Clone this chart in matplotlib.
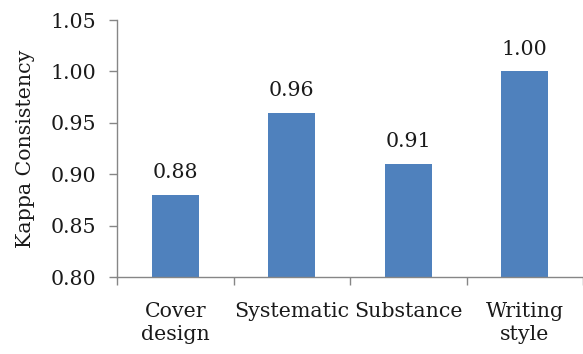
import matplotlib as mpl
mpl.use('Agg')
import matplotlib.pyplot as plt
import numpy as np

categories = ['Cover\ndesign', 'Systematic', 'Substance', 'Writing\nstyle']
kappa = [0.88, 0.96, 0.91, 1.00]
value_labels = ['0.88', '0.96', '0.91', '1.00']

plt.rcParams['font.family'] = ['DejaVu Serif']
fs = 14.8

fig = plt.figure(figsize=(5.83, 3.54), dpi=100)
ax = fig.add_axes([117 / 583, 77 / 354, 1 - 117 / 583, 257 / 354])

x = np.arange(len(categories))
bars = ax.bar(x, kappa, width=0.4, color='#4F81BD', zorder=2)

for xi, v, lab in zip(x, kappa, value_labels):
    ax.annotate(lab, (xi, v), xytext=(0, 9), textcoords='offset points',
                ha='center', va='bottom', fontsize=fs, color='#1a1a1a')

ax.set_ylim(0.80, 1.05)
ax.set_xlim(-0.5, len(categories) - 0.5)
ax.set_yticks(np.arange(0.80, 1.0501, 0.05))
ax.set_yticklabels(['%.2f' % t for t in np.arange(0.80, 1.0501, 0.05)])

ax.set_xticks(x)
ax.set_xticklabels(categories, linespacing=1.3)
ax.set_xticks(np.arange(-0.5, len(categories)), minor=True)
ax.tick_params(axis='x', which='major', length=0, pad=18, labelsize=fs, labelcolor='#1a1a1a')
ax.tick_params(axis='x', which='minor', length=6, width=1, color='#868686', direction='out')
ax.tick_params(axis='y', length=6, width=1, color='#868686', direction='out',
               pad=9, labelsize=fs, labelcolor='#1a1a1a')

for side in ['top', 'right']:
    ax.spines[side].set_visible(False)
for side in ['left', 'bottom']:
    ax.spines[side].set_color('#868686')
    ax.spines[side].set_linewidth(1)

ax.set_ylabel('Kappa Consistency', fontsize=fs, color='#1a1a1a', labelpad=11)

fig.savefig('out.png', dpi=100)
